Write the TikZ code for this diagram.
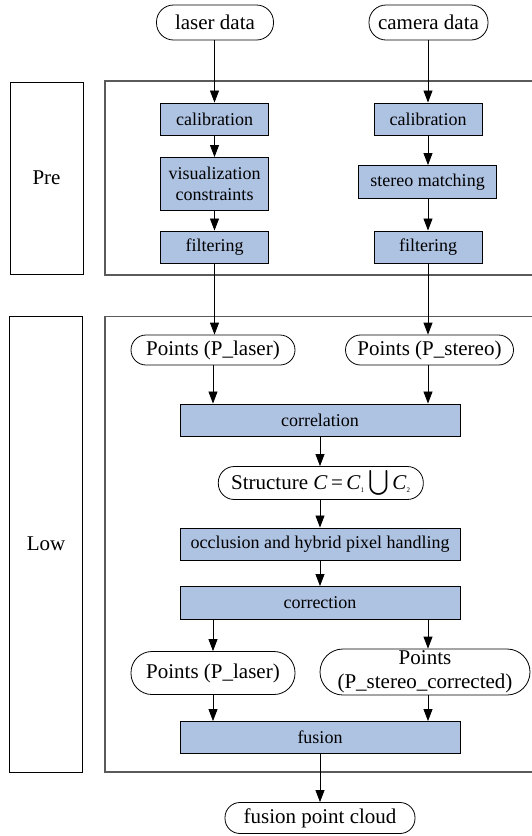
\documentclass[tikz,border=0pt]{standalone}
\usepackage{amsmath}
\usepackage{fontspec}
\setmainfont{Liberation Serif}
\usetikzlibrary{arrows.meta}
\definecolor{boxblue}{RGB}{174,194,226}
\definecolor{framegray}{RGB}{90,90,90}
\begin{document}
\begin{tikzpicture}[x=1pt,y=-1pt,
  procbox/.style={draw=black, fill=boxblue, line width=0.9pt, minimum width=#1,
    minimum height=32pt, inner sep=0pt, align=center, font=\fontsize{18}{21}\selectfont},
  term/.style={draw=black, line width=0.8pt, rounded corners=15pt, minimum width=#1,
    minimum height=31pt, inner sep=0pt, align=center, font=\fontsize{21}{24}\selectfont},
  sidebox/.style={draw=black, line width=0.9pt, minimum width=73pt, inner sep=0pt,
    font=\fontsize{21}{24}\selectfont},
  frame/.style={draw=framegray, line width=1.1pt},
  arr/.style={draw=black, line width=0.8pt, -{Triangle[length=12pt,width=9pt]}}]
\useasboundingbox (0,0) rectangle (532,836);

% side labels and frames
\node[sidebox, minimum height=192pt] (pre) at (46.5,178) {Pre};
\node[sidebox, minimum height=456pt] (low) at (46,544) {Low};
\draw[frame] (532,81) -- (105,81) -- (105,275) -- (532,275);
\draw[frame] (532,316.5) -- (105,316.5) -- (105,772) -- (532,772);

% inputs
\node[term=117pt, minimum height=35pt, rounded corners=17pt] (laser) at (215,22.5) {laser data};
\node[term=119pt, minimum height=35pt, rounded corners=17pt] (camera) at (428.5,22.5) {camera data};

% pre-processing
\node[procbox=108pt] (cal1) at (214.5,119) {calibration};
\node[procbox=108pt, minimum height=53pt] (vis) at (214.5,184) {visualization\\constraints};
\node[procbox=108pt] (filt1) at (214.5,247) {filtering};
\node[procbox=108pt] (cal2) at (428,119) {calibration};
\node[procbox=138pt, minimum height=33pt] (stereo) at (427.5,182) {stereo matching};
\node[procbox=108pt] (filt2) at (428,247) {filtering};

% low level
\node[term=164pt, minimum height=30pt] (ptl1) at (213,350) {Points (P\_laser)};
\node[term=168pt, minimum height=30pt] (pts1) at (429.5,350) {Points (P\_stereo)};
\node[procbox=280pt] (corr) at (320,420) {correlation};
\node[term=205pt, minimum height=33pt, rounded corners=16pt] (struct) at (320.8,483)
  {Structure \textit{C}\,=\,\textit{C}\textsubscript{\scriptsize 1}\,{\fontsize{23}{23}\selectfont$\bigcup$}\,\textit{C}\textsubscript{\scriptsize 2}};
\node[procbox=280pt] (occl) at (320,544) {occlusion and hybrid pixel handling};
\node[procbox=280pt, minimum height=33pt] (corrn) at (320,603) {correction};
\node[term=164pt, minimum height=43pt, rounded corners=21pt] (ptl2) at (213,673) {Points (P\_laser)};
\node[term=210pt, minimum height=46pt, rounded corners=23pt] (ptsc) at (425,672) {Points\\(P\_stereo\_corrected)};
\node[procbox=280pt] (fusion) at (320,737.5) {fusion};
\node[term=190pt, minimum height=31pt] (fpc) at (320,818) {fusion point cloud};

% connectors
\draw[arr] (laser.south -| cal1.north) -- (cal1.north);
\draw[arr] (camera.south -| cal2.north) -- (cal2.north);
\draw[arr] (cal1) -- (vis);
\draw[arr] (vis) -- (filt1);
\draw[arr] (cal2) -- (stereo.north -| cal2.south);
\draw[arr] (stereo.south -| filt2.north) -- (filt2);
\draw[arr] (filt1.south) -- (filt1.south |- ptl1.north);
\draw[arr] (filt2.south) -- (filt2.south |- pts1.north);
\draw[arr] (ptl1.south) -- (ptl1.south |- corr.north);
\draw[arr] (pts1.south -| filt2.south) -- (filt2.south |- corr.north);
\draw[arr] (corr) -- (corr.south |- struct.north);
\draw[arr] (struct.south -| corr.south) -- (occl);
\draw[arr] (occl) -- (corrn);
\draw[arr] (corrn.south -| ptl2.north) -- (ptl2.north);
\draw[arr] (corrn.south -| filt2.south) -- (filt2.south |- ptsc.north);
\draw[arr] (ptl2.south) -- (ptl2.south |- fusion.north);
\draw[arr] (ptsc.south -| filt2.south) -- (filt2.south |- fusion.north);
\draw[arr] (fusion) -- (fpc);
\end{tikzpicture}
\end{document}
